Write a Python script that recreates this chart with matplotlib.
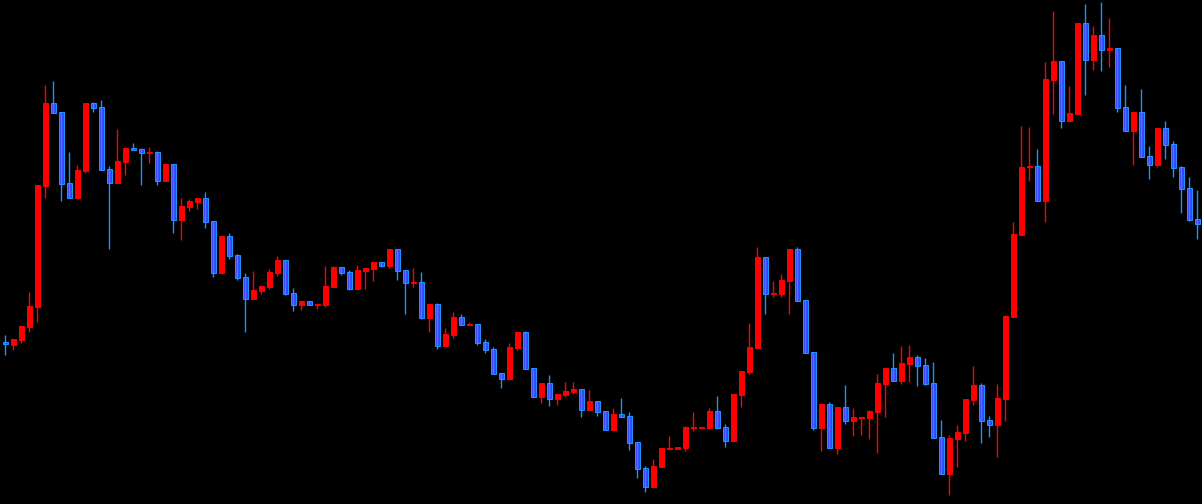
import matplotlib
matplotlib.use("Agg")
import matplotlib.pyplot as plt
import numpy as np

# OHLC (150 bars)
opens = [161.7, 159, 164, 177.3, 197.3, 318.3, 400.7, 392, 321, 306.3,
         333, 401, 397, 335, 321, 342, 356, 355, 351, 352,
         323, 340, 284, 297, 302, 306, 283, 231, 268, 249,
         227, 205, 213, 217, 231, 244, 211, 199, 203, 199,
         199, 217, 237, 232, 215, 233, 235, 242, 238, 255,
         234, 221, 222, 186, 200, 158, 169, 187, 179, 180,
         162, 155, 131, 125, 156, 172, 136, 107, 121, 105,
         109, 112, 115, 94, 103, 93, 74, 90, 88, 62,
         36, 17, 37, 55, 55, 56, 76, 76.3, 76, 93,
         77, 63, 109, 132, 156, 247, 210, 210, 223, 255,
         204, 152, 76, 100, 56, 97, 83, 86, 86, 92,
         120, 136, 123, 140, 147, 139, 121, 67, 30, 65,
         71, 104, 119, 84, 79, 105, 187, 269, 337, 338,
         303, 424, 443, 383, 390, 481, 444, 469, 454, 456,
         397, 373, 392, 348, 339, 376, 360, 337, 316, 285]
highs = [169, 165, 179, 212, 319, 419, 423, 392, 352, 339,
         401, 402, 404, 338, 375, 356, 361, 356, 357, 353,
         340, 340, 306, 305, 306, 312, 283, 268, 271, 250,
         231, 233, 218, 235, 248, 244, 216, 203, 203, 200,
         238, 238, 237, 234, 239, 236, 242, 242, 255, 255,
         234, 236, 232, 200, 201, 176, 192, 190, 182, 180,
         165, 157, 131, 161, 172, 173, 136, 121, 129, 110,
         122, 122, 115, 114, 103, 93, 96, 106, 92, 62,
         38, 45, 56, 68, 57, 78, 92, 77.3, 96, 108,
         80, 110, 133, 181, 257, 247, 223, 230, 255, 257,
         204, 152, 100, 102, 97, 119, 96, 87, 94, 130,
         136, 151, 158, 159, 149, 146, 142, 84, 69, 79,
         105, 138, 121, 88, 120, 189, 282, 378, 377, 355,
         442, 493, 443, 418, 481, 500, 478, 502, 486, 456,
         419, 392, 415, 358, 376, 383, 363, 338, 327, 314]
lows = [149, 154, 161.3, 172.3, 182.3, 306.3, 391.3, 303, 306.3, 306.3,
        331, 392, 334, 255, 321, 329, 354, 319, 341, 319,
        323, 271, 264, 293, 295, 276, 227, 231, 245, 224,
        172, 205, 210, 215, 228, 209, 193, 194, 199, 195,
        197, 217, 229, 214, 215, 215, 223, 237, 236, 224,
        190, 217, 185, 172, 155, 158, 166, 179, 179, 159,
        151, 130, 116, 125, 154, 135, 107, 101, 98, 99,
        107, 110, 87, 94, 88, 74, 74, 87, 54, 26,
        12, 17, 37, 55, 55, 53, 73, 76.3, 76, 76,
        57, 63, 97, 130, 156, 190, 207, 207, 190, 203,
        151, 74, 53, 56, 50, 80, 68, 69, 65, 51,
        87, 123, 120, 122, 118, 119, 66, 30, 9, 37,
        63, 99, 61, 67, 47, 83, 187, 269, 323, 303,
        282, 390, 376, 383, 390, 409, 434, 433, 437, 392,
        373, 339, 347, 325, 337, 345, 327, 291, 283, 265]
closes = [159.7, 165, 178, 198, 319, 401, 391.3, 320.3, 306.3, 334,
          401, 396.3, 334, 321, 343, 356, 354, 351, 352, 323,
          340, 284, 298, 303, 306, 282, 231, 268, 248, 226,
          205, 214, 218, 232, 244, 210, 199, 203, 199, 200,
          218, 237, 231, 215, 234, 236, 242, 238, 255, 233,
          221, 222, 186, 200, 158, 170, 187, 179, 180, 161,
          154, 130, 125, 157, 172, 135, 107, 121, 105, 110,
          113, 115, 94, 103, 92, 74, 90, 87, 61, 35,
          17, 38, 56, 56, 57, 77, 77, 77.3, 93, 76,
          63, 110, 133, 157, 247, 210, 211, 224, 255, 203,
          151, 76, 100, 56, 97, 83, 87, 87, 93, 121,
          136, 123, 141, 147, 138, 120, 66, 30, 66, 72,
          105, 119, 83, 79, 106, 188, 270, 337, 338, 303,
          425, 443, 383, 391, 481, 444, 469, 454, 456, 396,
          373, 392, 347, 339, 376, 359, 336, 315, 284, 280]

up_color = "#ff0000"
down_fill = "#3f3fff"
down_edge = "#1e90ff"

o = np.array(opens)
h = np.array(highs)
l = np.array(lows)
c = np.array(closes)
x = np.arange(len(o))
up = c >= o

fig = plt.figure(figsize=(12.02, 5.04), dpi=100, facecolor="black")
ax = fig.add_axes([0, 0, 1, 1])
ax.set_facecolor("black")

# wicks
ax.vlines(x[up], l[up], h[up], color=up_color, linewidth=1.0)
ax.vlines(x[~up], l[~up], h[~up], color=down_edge, linewidth=1.0)

# bodies
w = 0.625
ax.bar(x[up], c[up] - o[up], bottom=o[up], width=w,
       color=up_color, edgecolor=up_color, linewidth=0.7)
ax.bar(x[~up], o[~up] - c[~up], bottom=c[~up], width=w,
       color=down_fill, edgecolor=down_edge, linewidth=0.75)

ax.set_xlim(-0.625, 149.625)
ax.set_ylim(0, 504)
ax.axis("off")

fig.savefig("out.png", dpi=100, facecolor="black")
